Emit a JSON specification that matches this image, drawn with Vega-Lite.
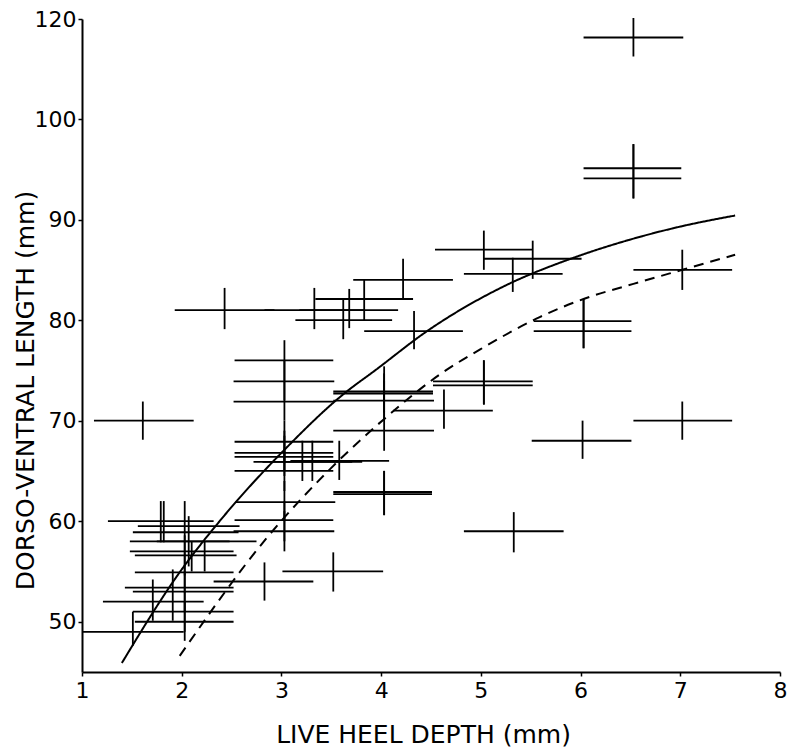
{
  "$schema": "https://vega.github.io/schema/vega-lite/v6.json",
  "width": 698,
  "height": 653,
  "autosize": {"type": "none"},
  "padding": {"left": 82, "top": 19, "right": 11, "bottom": 79},
  "background": "white",
  "config": {
    "view": {"stroke": null},
    "axis": {
      "domainColor": "black",
      "domainWidth": 2,
      "tickColor": "black",
      "tickWidth": 1.5,
      "tickSize": 4,
      "grid": false,
      "labelFont": "DejaVu Sans",
      "labelFontSize": 22,
      "labelColor": "black",
      "labelFlush": false,
      "titleFont": "DejaVu Sans",
      "titleFontSize": 25,
      "titleFontWeight": "normal",
      "titleColor": "black"
    }
  },
  "datasets": {
    "points": [
      {"x": 6.53, "y": 116.3, "xlo": 6.03, "xhi": 7.03, "ylo": 112.5, "yhi": 120.2},
      {"x": 6.53, "y": 95.1, "xlo": 6.03, "xhi": 7.01, "ylo": 92.1, "yhi": 97.5},
      {"x": 6.53, "y": 94.1, "xlo": 6.03, "xhi": 7.01, "ylo": 92.1, "yhi": 97.5},
      {"x": 7.02, "y": 85.0, "xlo": 6.53, "xhi": 7.52, "ylo": 83.0, "yhi": 87.0},
      {"x": 6.03, "y": 79.9, "xlo": 5.53, "xhi": 6.51, "ylo": 77.2, "yhi": 82.1},
      {"x": 6.03, "y": 78.9, "xlo": 5.53, "xhi": 6.51, "ylo": 77.2, "yhi": 82.1},
      {"x": 5.03, "y": 87.0, "xlo": 4.54, "xhi": 5.52, "ylo": 85.0, "yhi": 88.9},
      {"x": 5.52, "y": 86.1, "xlo": 5.03, "xhi": 6.01, "ylo": 84.1, "yhi": 87.9},
      {"x": 5.32, "y": 84.6, "xlo": 4.83, "xhi": 5.82, "ylo": 82.8, "yhi": 86.2},
      {"x": 4.22, "y": 84.0, "xlo": 3.72, "xhi": 4.72, "ylo": 82.2, "yhi": 86.1},
      {"x": 3.83, "y": 82.1, "xlo": 3.34, "xhi": 4.32, "ylo": 80.0, "yhi": 84.0},
      {"x": 2.43, "y": 81.0, "xlo": 1.93, "xhi": 2.93, "ylo": 79.1, "yhi": 83.2},
      {"x": 3.33, "y": 81.0, "xlo": 2.83, "xhi": 3.83, "ylo": 79.1, "yhi": 83.2},
      {"x": 3.68, "y": 81.0, "xlo": 3.18, "xhi": 4.17, "ylo": 79.2, "yhi": 83.1},
      {"x": 3.62, "y": 80.0, "xlo": 3.14, "xhi": 4.11, "ylo": 78.1, "yhi": 82.1},
      {"x": 4.33, "y": 78.9, "xlo": 3.83, "xhi": 4.82, "ylo": 77.1, "yhi": 80.9},
      {"x": 3.03, "y": 76.0, "xlo": 2.53, "xhi": 3.52, "ylo": 74.0, "yhi": 78.0},
      {"x": 3.03, "y": 73.9, "xlo": 2.52, "xhi": 3.53, "ylo": 72.0, "yhi": 76.0},
      {"x": 3.03, "y": 71.9, "xlo": 2.52, "xhi": 3.53, "ylo": 70.0, "yhi": 74.0},
      {"x": 3.03, "y": 67.9, "xlo": 2.53, "xhi": 3.52, "ylo": 66.0, "yhi": 70.0},
      {"x": 3.03, "y": 66.8, "xlo": 2.53, "xhi": 3.52, "ylo": 65.0, "yhi": 69.0},
      {"x": 3.03, "y": 66.4, "xlo": 2.53, "xhi": 3.52, "ylo": 64.5, "yhi": 68.5},
      {"x": 3.03, "y": 65.0, "xlo": 2.53, "xhi": 3.52, "ylo": 63.0, "yhi": 67.0},
      {"x": 3.03, "y": 61.9, "xlo": 2.54, "xhi": 3.54, "ylo": 60.0, "yhi": 64.0},
      {"x": 3.03, "y": 60.1, "xlo": 2.53, "xhi": 3.52, "ylo": 58.0, "yhi": 62.0},
      {"x": 3.03, "y": 59.0, "xlo": 2.52, "xhi": 3.53, "ylo": 57.0, "yhi": 61.0},
      {"x": 3.21, "y": 65.9, "xlo": 2.72, "xhi": 3.71, "ylo": 64.0, "yhi": 68.0},
      {"x": 3.31, "y": 65.9, "xlo": 2.81, "xhi": 3.81, "ylo": 64.0, "yhi": 68.0},
      {"x": 3.58, "y": 66.0, "xlo": 3.09, "xhi": 4.08, "ylo": 64.1, "yhi": 68.0},
      {"x": 3.52, "y": 55.0, "xlo": 3.01, "xhi": 4.02, "ylo": 53.0, "yhi": 56.9},
      {"x": 2.83, "y": 54.0, "xlo": 2.32, "xhi": 3.32, "ylo": 52.1, "yhi": 55.9},
      {"x": 4.03, "y": 72.9, "xlo": 3.52, "xhi": 4.52, "ylo": 71.0, "yhi": 75.4},
      {"x": 4.03, "y": 72.7, "xlo": 3.52, "xhi": 4.52, "ylo": 70.8, "yhi": 74.7},
      {"x": 4.03, "y": 72.0, "xlo": 3.52, "xhi": 4.53, "ylo": 70.0, "yhi": 74.0},
      {"x": 4.03, "y": 69.0, "xlo": 3.52, "xhi": 4.53, "ylo": 67.0, "yhi": 71.0},
      {"x": 4.63, "y": 71.0, "xlo": 4.12, "xhi": 5.12, "ylo": 69.2, "yhi": 73.1},
      {"x": 5.03, "y": 73.9, "xlo": 4.52, "xhi": 5.52, "ylo": 71.6, "yhi": 76.0},
      {"x": 5.03, "y": 73.5, "xlo": 4.52, "xhi": 5.52, "ylo": 71.6, "yhi": 76.0},
      {"x": 4.03, "y": 62.9, "xlo": 3.52, "xhi": 4.51, "ylo": 60.6, "yhi": 65.0},
      {"x": 4.03, "y": 62.7, "xlo": 3.52, "xhi": 4.51, "ylo": 60.6, "yhi": 65.0},
      {"x": 5.33, "y": 59.0, "xlo": 4.83, "xhi": 5.83, "ylo": 56.9, "yhi": 60.9},
      {"x": 6.02, "y": 68.0, "xlo": 5.51, "xhi": 6.51, "ylo": 66.2, "yhi": 70.0},
      {"x": 7.02, "y": 70.0, "xlo": 6.53, "xhi": 7.52, "ylo": 68.1, "yhi": 71.9},
      {"x": 1.61, "y": 70.0, "xlo": 1.12, "xhi": 2.12, "ylo": 68.1, "yhi": 71.9},
      {"x": 1.79, "y": 60.0, "xlo": 1.26, "xhi": 2.32, "ylo": 57.9, "yhi": 62.0},
      {"x": 1.82, "y": 59.5, "xlo": 1.56, "xhi": 2.58, "ylo": 57.9, "yhi": 62.0},
      {"x": 2.03, "y": 58.9, "xlo": 1.51, "xhi": 2.57, "ylo": 56.9, "yhi": 62.0},
      {"x": 2.23, "y": 58.0, "xlo": 1.75, "xhi": 2.75, "ylo": 55.0, "yhi": 58.0},
      {"x": 2.10, "y": 58.0, "xlo": 1.48, "xhi": 2.48, "ylo": 55.0, "yhi": 58.0},
      {"x": 2.07, "y": 57.0, "xlo": 1.48, "xhi": 2.52, "ylo": 55.5, "yhi": 60.5},
      {"x": 2.03, "y": 56.6, "xlo": 1.53, "xhi": 2.55, "ylo": 54.6, "yhi": 58.6},
      {"x": 2.03, "y": 54.9, "xlo": 1.53, "xhi": 2.52, "ylo": 52.9, "yhi": 56.9},
      {"x": 1.91, "y": 53.4, "xlo": 1.43, "xhi": 2.52, "ylo": 50.1, "yhi": 55.2},
      {"x": 2.03, "y": 53.0, "xlo": 1.51, "xhi": 2.52, "ylo": 51.0, "yhi": 55.0},
      {"x": 1.71, "y": 52.0, "xlo": 1.21, "xhi": 2.22, "ylo": 50.1, "yhi": 54.2},
      {"x": 2.03, "y": 51.0, "xlo": 1.51, "xhi": 2.52, "ylo": 49.0, "yhi": 53.0},
      {"x": 2.03, "y": 50.0, "xlo": 1.53, "xhi": 2.52, "ylo": 48.1, "yhi": 52.0},
      {"x": 1.51, "y": 49.0, "xlo": 1.00, "xhi": 2.02, "ylo": 47.6, "yhi": 51.0}
    ],
    "curves": [
      {"fit": "solid", "x": 1.40, "y": 45.9},
      {"fit": "solid", "x": 2.0, "y": 55.2},
      {"fit": "solid", "x": 2.38, "y": 60.0},
      {"fit": "solid", "x": 3.03, "y": 67.1},
      {"fit": "solid", "x": 3.63, "y": 72.7},
      {"fit": "solid", "x": 3.94, "y": 75.0},
      {"fit": "solid", "x": 4.46, "y": 78.9},
      {"fit": "solid", "x": 5.26, "y": 83.5},
      {"fit": "solid", "x": 5.93, "y": 86.2},
      {"fit": "solid", "x": 6.53, "y": 88.1},
      {"fit": "solid", "x": 7.0, "y": 89.3},
      {"fit": "solid", "x": 7.55, "y": 90.4},
      {"fit": "dashed", "x": 1.98, "y": 46.6},
      {"fit": "dashed", "x": 2.85, "y": 58.3},
      {"fit": "dashed", "x": 3.49, "y": 65.2},
      {"fit": "dashed", "x": 4.07, "y": 70.5},
      {"fit": "dashed", "x": 4.59, "y": 74.6},
      {"fit": "dashed", "x": 5.03, "y": 77.3},
      {"fit": "dashed", "x": 5.59, "y": 80.3},
      {"fit": "dashed", "x": 6.03, "y": 82.1},
      {"fit": "dashed", "x": 6.53, "y": 83.6},
      {"fit": "dashed", "x": 7.02, "y": 85.0},
      {"fit": "dashed", "x": 7.55, "y": 86.5}
    ]
  },
  "layer": [
    {
      "data": {"name": "points"},
      "mark": {"type": "rule", "color": "black", "strokeWidth": 1.8},
      "encoding": {
        "x": {
          "field": "xlo", "type": "quantitative",
          "scale": {"domain": [1, 8], "nice": false, "zero": false},
          "axis": {
            "title": "LIVE HEEL DEPTH (mm)",
            "values": [1, 2, 3, 4, 5, 6, 7, 8],
            "format": "d",
            "labelPadding": 4,
            "titleBaseline": "alphabetic",
            "titleY": 70,
            "titleX": 341
          }
        },
        "x2": {"field": "xhi"},
        "y": {
          "field": "y", "type": "quantitative",
          "scale": {"domain": [45, 100, 120], "range": [653, 100, 0], "nice": false, "zero": false},
          "axis": {
            "title": "DORSO-VENTRAL LENGTH (mm)",
            "values": [50, 60, 70, 80, 90, 100, 120],
            "format": "d",
            "labelPadding": 2,
            "titleBaseline": "alphabetic",
            "titleX": -49,
            "titleY": 371
          }
        }
      }
    },
    {
      "data": {"name": "points"},
      "mark": {"type": "rule", "color": "black", "strokeWidth": 1.8},
      "encoding": {
        "x": {"field": "x", "type": "quantitative"},
        "y": {"field": "ylo", "type": "quantitative"},
        "y2": {"field": "yhi"}
      }
    },
    {
      "data": {"name": "curves"},
      "mark": {"type": "line", "interpolate": "monotone", "color": "black", "strokeWidth": 2},
      "encoding": {
        "x": {"field": "x", "type": "quantitative"},
        "y": {"field": "y", "type": "quantitative"},
        "strokeDash": {
          "field": "fit", "type": "nominal",
          "scale": {"domain": ["solid", "dashed"], "range": [[1, 0], [10, 7]]},
          "legend": null
        }
      }
    }
  ]
}
